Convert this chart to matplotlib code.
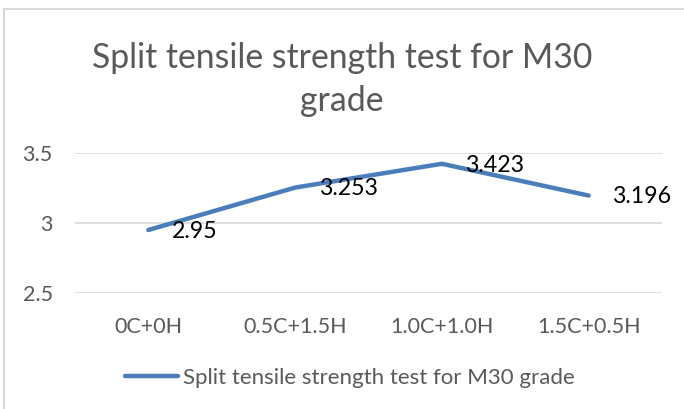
import matplotlib
matplotlib.use("Agg")
import matplotlib.pyplot as plt
from matplotlib.lines import Line2D

# data
categories = ["0C+0H", "0.5C+1.5H", "1.0C+1.0H", "1.5C+0.5H"]
strength = [2.95, 3.253, 3.423, 3.196]
yticks = [2.5, 3, 3.5]
title = "Split tensile strength test for M30\ngrade"
series_name = "Split tensile strength test for M30 grade"

plt.rcParams['font.family'] = ['Lato', 'DejaVu Sans']

W, H = 684, 409
fig = plt.figure(figsize=(W / 100, H / 100), dpi=100)
ax = fig.add_axes([75 / W, 1 - 293 / H, (662 - 75) / W, (293 - 153) / H])

x = range(len(categories))
ax.plot(x, strength, color="#4a7ebb", lw=3.2, solid_capstyle="round",
        label=series_name, zorder=3)
for i, v in zip(x, strength):
    ax.annotate(f"{v:g}", (i, v), xytext=(17, -1), textcoords="offset points",
                ha="left", va="center", fontsize=16.7, color="black", zorder=4)

ax.set_xlim(-0.5, len(categories) - 0.5)
ax.set_ylim(2.5, 3.5)
ax.set_yticks(yticks)
ax.set_yticklabels([f"{t:g}" for t in yticks])
ax.set_xticks(list(x))
ax.set_xticklabels(categories)
ax.grid(axis="y", color="#d9d9d9", lw=1.2)
ax.set_axisbelow(True)
for s in ax.spines.values():
    s.set_visible(False)
ax.tick_params(length=0, labelsize=15.5, colors="#595959")
ax.tick_params(axis="y", pad=16)
ax.tick_params(axis="x", pad=17)

fig.text(0.5, 1 - 79.5 / H, title, ha="center", va="center", fontsize=24.3,
         color="#595959", linespacing=1.42)

fig.legend(loc="center", bbox_to_anchor=(0.5 + 8 / W, 1 - 378 / H), frameon=False,
           fontsize=16, handlelength=2.4, handletextpad=0.22,
           labelcolor="#595959")

# chart area border (only top and left visible)
fig.add_artist(Line2D([4 / W, 1], [1 - 9 / H, 1 - 9 / H], color="#d9d9d9", lw=1.5))
fig.add_artist(Line2D([4 / W, 4 / W], [0, 1 - 9 / H], color="#d9d9d9", lw=1.5))

fig.savefig("out.png", dpi=100)
